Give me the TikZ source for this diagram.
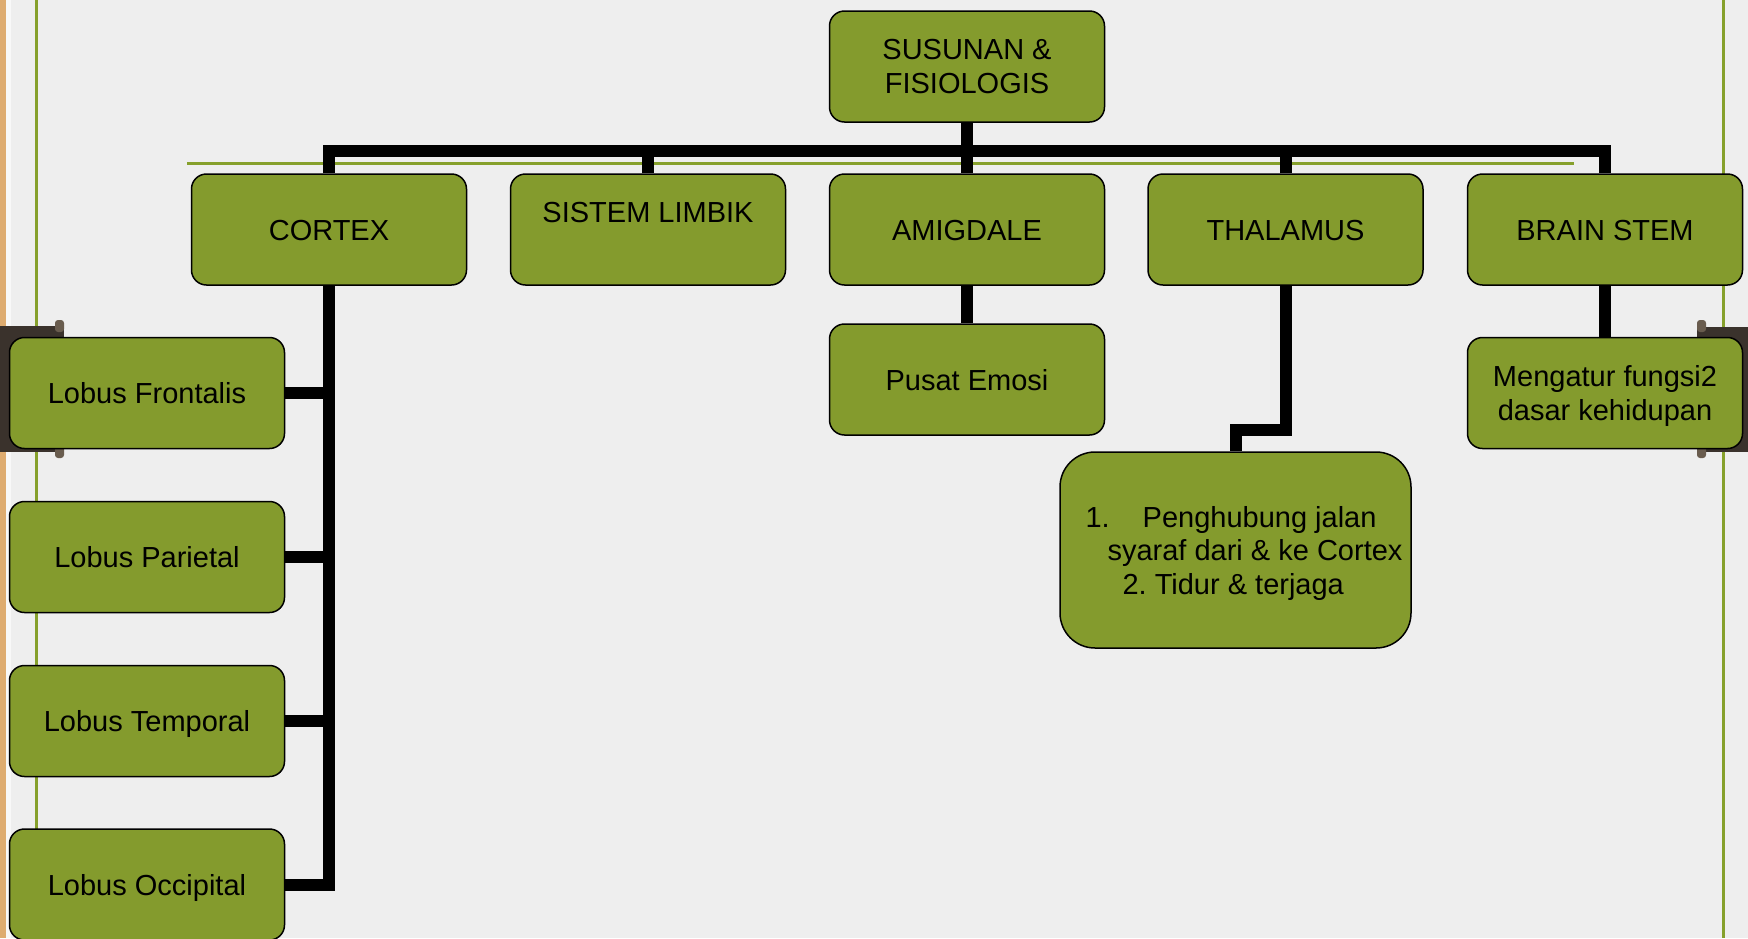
\documentclass[tikz,border=0pt]{standalone}
\usepackage{fontspec}
\setmainfont{Liberation Sans}
\definecolor{boxgreen}{RGB}{132,155,45}
\definecolor{linegreen}{RGB}{134,160,44}
\definecolor{bgpaper}{RGB}{238,238,238}
\definecolor{tabbrown}{RGB}{58,50,44}
\definecolor{knobbrown}{RGB}{105,92,78}
\definecolor{wood}{RGB}{222,172,112}
\pgfdeclarelayer{paper}
\pgfdeclarelayer{wires}
\pgfsetlayers{paper,wires,main}
\frenchspacing
\begin{document}
\begin{tikzpicture}[x=1pt,y=-1pt,
  box/.style={draw=black, line width=1.5pt, fill=boxgreen, rounded corners=15pt,
    minimum width=275pt, minimum height=111pt, inner sep=0pt, align=center,
    text depth=0pt, font=\fontsize{29}{34}\selectfont},
  conn/.style={line width=12pt, draw=black},
  guide/.style={draw=linegreen, line width=3pt}]
\useasboundingbox (0,0) rectangle (1748,938);

% nodes
\node[box] (root) at (967,66.5) {SUSUNAN \&\\FISIOLOGIS};
\node[box] (cortex) at (329,229.5) {\raisebox{-1pt}[\height][0pt]{CORTEX}};
\node[box] (limbik) at (648,229.5) {\raisebox{17pt}[\height][0pt]{SISTEM LIMBIK}};
\node[box] (amig) at (967,229.5) {\raisebox{-1pt}[\height][0pt]{AMIGDALE}};
\node[box] (thal) at (1285.5,229.5) {\raisebox{-1pt}[\height][0pt]{THALAMUS}};
\node[box] (bstem) at (1605,229.5) {\raisebox{-1pt}[\height][0pt]{BRAIN STEM}};
\node[box] (lobF) at (147,393) {Lobus Frontalis};
\node[box] (lobP) at (147,557) {Lobus Parietal};
\node[box] (lobT) at (147,721) {Lobus Temporal};
\node[box] (lobO) at (147,884.5) {Lobus Occipital};
\node[box] (emosi) at (967,379.5) {Pusat Emosi};
\node[box] (mengatur) at (1605,393) {Mengatur fungsi2\\dasar kehidupan};
\node[box, minimum width=351pt, minimum height=196pt, rounded corners=35pt,
  align=left, font=\fontsize{29}{33.5}\selectfont] (thalfn) at (1235.5,550)
  {\hspace*{17pt}1.\hspace{33pt}Penghubung jalan\\\hspace*{39pt}syaraf dari \& ke Cortex\\\hspace*{54pt}2. Tidur \& terjaga};

\coordinate (bar) at (0,151);
\coordinate (tb) at (0,429.5);

\begin{pgfonlayer}{paper}
  \fill[bgpaper] (0,0) rectangle (1748,938);
  \fill[wood] (0,0) rectangle (6,938);
  \fill[white!60!bgpaper] (6,0) rectangle (11,938);
  \draw[guide] (36,0) -- (36,938);
  \draw[guide] (1723,0) -- (1723,938);
  \draw[guide] (187,163) -- (1574,163);
  \fill[tabbrown] (0,326) rectangle (64,452);
  \fill[knobbrown, rounded corners=3pt] (55,320) rectangle (64,332);
  \fill[knobbrown, rounded corners=3pt] (55,446) rectangle (64,458);
  \fill[tabbrown] (1697,327) rectangle (1748,452);
  \fill[knobbrown, rounded corners=3pt] (1697,320) rectangle (1706,332);
  \fill[knobbrown, rounded corners=3pt] (1697,446) rectangle (1706,458);
\end{pgfonlayer}

\begin{pgfonlayer}{wires}
  \draw[conn] (cortex.north) |- (bstem.north |- bar) -- (bstem.north);
  \draw[conn] (root.south) -- (amig.north);
  \draw[conn] (limbik.north) -- (limbik.north |- bar);
  \draw[conn] (thal.north) -- (thal.north |- bar);
  \draw[conn] (amig.south) -- (emosi.north);
  \draw[conn] (thal.south) -- (thal.south |- tb) -| (thalfn.north);
  \draw[conn] (bstem.south) -- (mengatur.north);
  \draw[conn] (cortex.south) |- (lobO.east);
  \foreach \n in {lobF,lobP,lobT} \draw[conn] (\n.east) -- (\n.east -| cortex.south);
\end{pgfonlayer}
\end{tikzpicture}
\end{document}
